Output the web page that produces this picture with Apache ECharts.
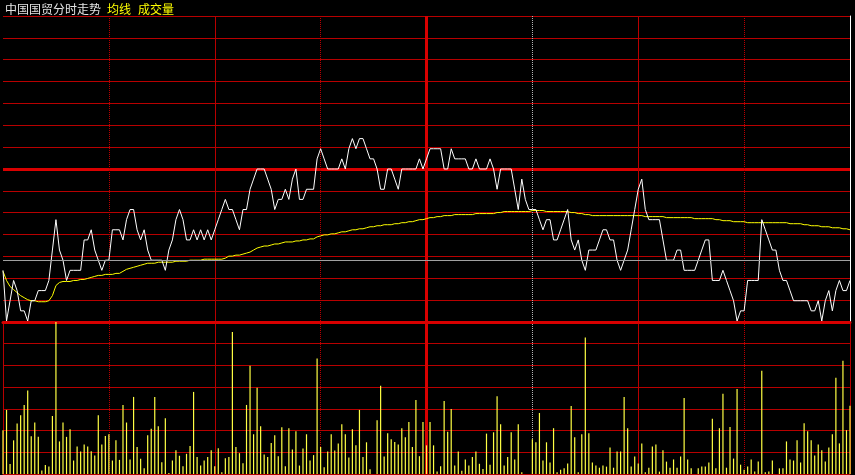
<!DOCTYPE html>
<html><head><meta charset="utf-8">
<script src="https://cdn.jsdelivr.net/npm/echarts/dist/echarts.min.js"></script>
<style>html,body{margin:0;padding:0;background:#000;}#c{width:855px;height:475px;}</style>
</head><body><div id="c"></div>
<script>
// ---- data ----
const stockName = '中国国贸分时走势';
const avgLabel = '均线';
const volLabel = '成交量';
const prevClose = 14.50;
const priceMin = 14.349;
const priceMax = 14.651;
const crossPrice = 14.411;
const volMax = 700;

const times = [];
(function(){
  function pad(n){return (n<10?'0':'')+n;}
  for (let m = 9*60+30; m <= 11*60+30; m++) times.push(pad(Math.floor(m/60))+':'+pad(m%60));
  for (let m = 13*60+1; m <= 15*60; m++) times.push(pad(Math.floor(m/60))+':'+pad(m%60));
})();

const prices = [
14.40,14.35,14.37,14.39,14.38,14.36,14.36,14.35,14.37,14.37,
14.38,14.38,14.38,14.39,14.42,14.45,14.42,14.41,14.39,14.40,
14.40,14.40,14.40,14.43,14.43,14.44,14.42,14.41,14.40,14.41,
14.41,14.44,14.44,14.44,14.43,14.45,14.46,14.46,14.44,14.43,
14.44,14.42,14.41,14.41,14.41,14.41,14.40,14.42,14.43,14.45,
14.46,14.45,14.43,14.43,14.44,14.43,14.44,14.43,14.44,14.43,
14.44,14.45,14.46,14.47,14.46,14.46,14.45,14.44,14.46,14.46,
14.48,14.49,14.50,14.50,14.50,14.49,14.48,14.46,14.47,14.47,
14.48,14.47,14.49,14.50,14.47,14.47,14.48,14.48,14.48,14.51,
14.52,14.51,14.50,14.50,14.50,14.50,14.51,14.50,14.52,14.53,
14.52,14.53,14.53,14.52,14.51,14.51,14.50,14.48,14.48,14.50,
14.50,14.49,14.48,14.50,14.50,14.50,14.50,14.50,14.51,14.50,
14.51,14.52,14.52,14.52,14.52,14.50,14.50,14.52,14.51,14.51,
14.51,14.51,14.50,14.50,14.51,14.50,14.50,14.50,14.51,14.50,
14.48,14.50,14.50,14.50,14.50,14.48,14.46,14.49,14.47,14.46,
14.46,14.46,14.45,14.44,14.45,14.45,14.43,14.43,14.44,14.45,
14.46,14.43,14.42,14.43,14.41,14.40,14.42,14.42,14.42,14.43,
14.44,14.44,14.43,14.43,14.41,14.40,14.41,14.42,14.44,14.46,
14.48,14.49,14.46,14.45,14.45,14.45,14.45,14.43,14.41,14.41,
14.41,14.42,14.42,14.40,14.40,14.40,14.40,14.41,14.42,14.43,
14.43,14.39,14.39,14.39,14.40,14.39,14.38,14.37,14.35,14.36,
14.36,14.39,14.39,14.39,14.39,14.45,14.44,14.43,14.42,14.42,
14.40,14.39,14.39,14.38,14.37,14.37,14.37,14.37,14.37,14.36,
14.36,14.37,14.35,14.37,14.38,14.36,14.38,14.39,14.38,14.38,
14.39
];

const avgPrices = [
14.399,14.390,14.384,14.381,14.378,14.375,14.373,14.371,14.370,14.370,
14.369,14.369,14.369,14.370,14.375,14.385,14.388,14.389,14.389,14.389,
14.390,14.390,14.391,14.391,14.392,14.393,14.394,14.395,14.395,14.396,
14.396,14.396,14.397,14.397,14.399,14.401,14.402,14.403,14.404,14.405,
14.406,14.407,14.407,14.407,14.408,14.408,14.408,14.408,14.408,14.409,
14.409,14.409,14.409,14.410,14.410,14.410,14.410,14.411,14.411,14.411,
14.411,14.411,14.411,14.412,14.414,14.414,14.415,14.415,14.416,14.417,
14.418,14.420,14.422,14.423,14.424,14.424,14.425,14.426,14.426,14.427,
14.428,14.428,14.428,14.429,14.429,14.430,14.430,14.431,14.431,14.433,
14.434,14.435,14.435,14.436,14.436,14.437,14.438,14.438,14.439,14.440,
14.440,14.441,14.441,14.442,14.443,14.443,14.444,14.444,14.445,14.445,
14.445,14.446,14.446,14.447,14.447,14.448,14.448,14.449,14.450,14.450,
14.451,14.452,14.452,14.453,14.453,14.454,14.454,14.454,14.455,14.455,
14.455,14.455,14.455,14.455,14.456,14.456,14.456,14.456,14.456,14.456,
14.457,14.457,14.458,14.458,14.458,14.458,14.458,14.458,14.458,14.458,
14.459,14.459,14.459,14.459,14.458,14.458,14.458,14.458,14.458,14.458,
14.458,14.457,14.457,14.456,14.456,14.455,14.455,14.454,14.454,14.454,
14.454,14.454,14.454,14.454,14.454,14.454,14.454,14.454,14.454,14.454,
14.454,14.454,14.453,14.453,14.453,14.453,14.453,14.453,14.452,14.452,
14.452,14.452,14.452,14.452,14.452,14.452,14.451,14.451,14.451,14.451,
14.451,14.451,14.450,14.450,14.449,14.449,14.449,14.448,14.448,14.448,
14.448,14.447,14.447,14.447,14.447,14.447,14.447,14.447,14.447,14.447,
14.447,14.447,14.447,14.446,14.446,14.446,14.446,14.445,14.445,14.444,
14.444,14.444,14.443,14.443,14.443,14.442,14.442,14.442,14.441,14.441,
14.440
];

const volumes = [
201,295,46,155,232,271,318,384,174,237,
171,16,42,34,267,700,150,237,171,206,
62,127,104,136,127,105,85,271,136,175,
183,62,155,65,318,237,67,355,124,70,
26,178,208,355,220,54,257,5,62,109,
84,36,93,129,378,78,39,62,78,109,
36,119,8,73,78,654,124,96,50,318,
499,183,397,220,90,78,143,178,82,215,
36,211,113,197,39,118,183,62,87,532,
124,31,104,183,108,141,229,183,76,206,
132,295,78,146,22,0,248,406,81,188,
160,147,136,211,169,239,124,341,82,239,
132,239,132,11,36,336,194,299,39,104,
15,67,39,78,104,47,23,186,43,192,
358,229,39,78,192,67,229,8,0,0,
160,146,281,62,146,53,211,8,20,26,
48,313,169,8,183,629,188,53,39,29,
39,34,122,29,104,104,355,211,34,81,
48,141,8,29,127,136,11,109,57,29,
67,29,81,350,67,26,0,26,34,34,
53,254,26,211,369,29,216,71,392,43,
20,34,67,11,57,476,8,11,62,0,
26,26,150,67,62,155,53,234,197,155,
85,136,109,57,122,183,443,141,521,202,
314
];

const gridLevels = [];
for (let k = 0; k <= 14; k++) gridLevels.push(String(k));

// ---- styles ----
const THIN = '#b80000';
const THICK = '#d80000';
const GRAY = '#b4b4b4';
const FONT = '"Noto Sans CJK SC", sans-serif';

function vAxis(gridIndex, pred, lineStyle, axisLine) {
  return {
    type: 'category', gridIndex: gridIndex, data: times, boundaryGap: false,
    position: 'bottom',
    axisLine: axisLine || {show: false},
    axisTick: {show: false}, axisLabel: {show: false},
    splitLine: {show: true, interval: function (idx) { return pred(idx); }, lineStyle: lineStyle}
  };
}
const isDotRed = i => i === 30 || i === 90 || i === 210;
const isSolid = i => i === 60 || i === 180 || i === 240;
const isMid = i => i === 120;
const isCross = i => i === 150;

const xAxes = [];
[0, 1].forEach(function (g) {
  xAxes.push(vAxis(g, isDotRed, {color: THIN, width: 1, type: 'dotted'},
    {show: true, onZero: false, lineStyle: {color: g === 0 ? THICK : THIN, width: g === 0 ? 3 : 1}}));
  xAxes.push(vAxis(g, isSolid, {color: THIN, width: 1, type: 'solid'}));
  xAxes.push(vAxis(g, isMid, {color: THICK, width: 3, type: 'solid'}));
  xAxes.push(vAxis(g, isCross, {color: GRAY, width: 1, type: 'dotted'}));
});

const chart = echarts.init(document.getElementById('c'), null, {renderer: 'canvas'});
chart.setOption({
  backgroundColor: '#000000',
  animation: false,
  title: [
    {text: stockName, left: 5, top: 3, padding: 0, textStyle: {color: '#e4e4e4', fontSize: 12, fontWeight: 'normal', fontFamily: FONT}},
    {text: avgLabel, left: 107, top: 3, padding: 0, textStyle: {color: '#ffff00', fontSize: 12, fontWeight: 'normal', fontFamily: FONT}},
    {text: volLabel, left: 138, top: 3, padding: 0, textStyle: {color: '#ffff00', fontSize: 12, fontWeight: 'normal', fontFamily: FONT}}
  ],
  grid: [
    {left: 3, top: 16, width: 847, height: 306},
    {left: 3, top: 322, width: 847, height: 152}
  ],
  xAxis: xAxes,
  yAxis: [
    {type: 'value', gridIndex: 0, min: priceMin, max: priceMax, show: false},
    {type: 'value', gridIndex: 0, min: 0, max: 14, interval: 1,
      axisLine: {show: true, lineStyle: {color: '#ffffff', width: 1}},
      axisTick: {show: false}, axisLabel: {show: false},
      splitLine: {show: true, lineStyle: {color: THIN, width: 1}}},
    {type: 'category', gridIndex: 0, data: gridLevels, boundaryGap: false,
      axisLine: {show: false}, axisTick: {show: false}, axisLabel: {show: false},
      splitLine: {show: true, interval: function (i) { return i === 7; }, lineStyle: {color: THICK, width: 3}}},
    {type: 'value', gridIndex: 1, min: 0, max: volMax, interval: 100,
      axisLine: {show: true, lineStyle: {color: THIN, width: 1}},
      axisTick: {show: false}, axisLabel: {show: false},
      splitLine: {show: true, lineStyle: {color: THIN, width: 1}}}
  ],
  series: [
    {type: 'line', name: '均线', xAxisIndex: 0, yAxisIndex: 0, data: avgPrices, symbol: 'none', z: 2,
      lineStyle: {color: '#ffff00', width: 1},
      markLine: {silent: true, symbol: ['none', 'none'], label: {show: false}, animation: false,
        lineStyle: {color: '#a0a0a0', width: 1, type: 'solid'},
        data: [{yAxis: crossPrice}]}},
    {type: 'line', name: '价格', xAxisIndex: 0, yAxisIndex: 0, data: prices, symbol: 'none', z: 3,
      lineStyle: {color: '#ffffff', width: 1}},
    {type: 'bar', name: '成交量', xAxisIndex: 4, yAxisIndex: 3, data: volumes, barWidth: 1.2, z: 3,
      itemStyle: {color: '#ffff44'}}
  ]
});
</script>
</body></html>
